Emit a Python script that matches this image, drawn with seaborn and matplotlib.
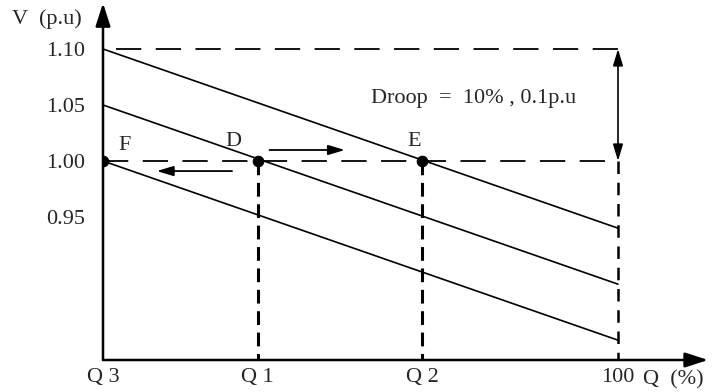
import matplotlib
matplotlib.use("Agg")
import matplotlib.pyplot as plt
import numpy as np
import pandas as pd
import seaborn as sns

# droop characteristics: Q (%) at ends, V (p.u) at ends
q_ends = [0, 100]
v_top = [1.10, 0.94]
v_mid = [1.05, 0.89]
v_low = [1.00, 0.84]

# operating points on the V = 1.00 line
q_points = [0, 30, 62]
v_points = [1.00, 1.00, 1.00]
point_names = ["F", "D", "E"]

x_ticks = [0, 30, 62, 100]
x_labels = ["Q 3", "Q 1", "Q 2", "100"]
y_ticks = [0.95, 1.00, 1.05, 1.10]
y_labels = ["0.95", "1.00", "1.05", "1.10"]

sns.set_style("white")
plt.rcParams["font.family"] = ["Liberation Serif", "DejaVu Serif"]
fs = 16

df = pd.DataFrame({
    "Q": q_ends * 3,
    "V": v_top + v_mid + v_low,
    "curve": ["top"] * 2 + ["mid"] * 2 + ["low"] * 2,
})

fig = plt.figure(figsize=(7.17, 3.92), dpi=100)
ax = fig.add_axes([103 / 717, 32 / 392, 614 / 717, 360 / 392])

sns.lineplot(data=df, x="Q", y="V", units="curve", estimator=None,
             color="black", lw=1.2, ax=ax)

# dashed guides
ax.plot([2.5, 100], [1.10, 1.10], color="black", lw=1.3, dashes=(14, 8))
ax.plot([0, 100], [1.00, 1.00], color="black", lw=1.3, dashes=(14, 8))
v_bot = 0.8223
for q in q_points[1:]:
    ax.plot([q, q], [1.00, v_bot], color="black", lw=2.2, dashes=(4.5, 2.5))
ax.plot([100, 100], [1.00, v_bot], color="black", lw=1.8, dashes=(5, 3.5))

sns.scatterplot(x=q_points, y=v_points, color="black", s=60, marker="o",
                edgecolor="black", ax=ax, zorder=5)

# labels for operating points
label_pos = [(4.2, 1.0135), (25.4, 1.017), (60.4, 1.017)]
for name, (lx, ly) in zip(point_names, label_pos):
    ax.text(lx, ly, name, fontsize=fs, ha="center", va="center")

arrow = dict(arrowstyle="-|>,head_length=1.0,head_width=0.3", color="black", lw=1.3)
ax.annotate("", xy=(47.5, 1.0098), xytext=(31.8, 1.0098), arrowprops=arrow)
ax.annotate("", xy=(9.9, 0.991), xytext=(25.6, 0.991), arrowprops=arrow)
ax.annotate("", xy=(100, 1.10), xytext=(100, 1.00),
            arrowprops=dict(arrowstyle="<|-|>,head_length=1.0,head_width=0.3",
                            color="black", lw=1.2, shrinkA=0, shrinkB=0))

ax.text(52.0, 1.0554, "Droop  =  10% , 0.1p.u", fontsize=fs,
        ha="left", va="center")

# axes with arrows
ax_arrow = dict(arrowstyle="-|>,head_length=1.4,head_width=0.45",
                color="black", lw=1.8, shrinkA=0, shrinkB=0)
ax.annotate("", xy=(117.5, v_bot), xytext=(0, v_bot), arrowprops=ax_arrow)
ax.annotate("", xy=(0, 1.141), xytext=(0, v_bot), arrowprops=ax_arrow)

ax.set_xlim(0, 614 / 5.15)
ax.set_ylim(v_bot, v_bot + 360 / 1120)
for s in ax.spines.values():
    s.set_visible(False)

ax.set_xticks(x_ticks)
ax.set_xticklabels(x_labels, fontsize=fs)
ax.set_yticks(y_ticks)
ax.set_yticklabels(y_labels, fontsize=fs)
ax.tick_params(axis="both", length=0)
ax.tick_params(axis="y", pad=13)
ax.tick_params(axis="x", pad=6)
ax.set_xlabel("")
ax.set_ylabel("")

fig.text(12 / 717, 1 - 19 / 392, "V  (p.u)", fontsize=fs, ha="left", va="center")
fig.text(643 / 717, 1 - 380 / 392, "Q  (%)", fontsize=fs, ha="left", va="center")

fig.savefig("out.png", dpi=100)
